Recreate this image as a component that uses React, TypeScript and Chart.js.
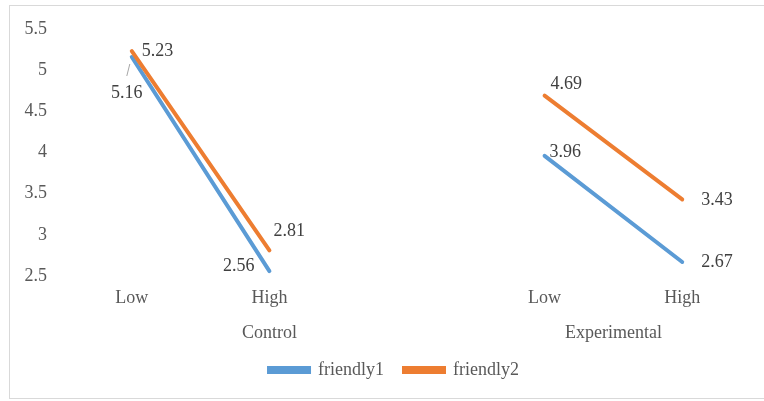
import React, { useEffect, useRef } from "react";
import { Chart, registerables } from "chart.js";

Chart.register(...registerables);

const categories = ["Low", "High", "", "Low", "High"];
const groupNames = ["Control", "Experimental"];
const groupStart = [0, 3];
const groupEnd = [2, 4];
const friendly1 = [5.16, 2.56, null, 3.96, 2.67];
const friendly2 = [5.23, 2.81, null, 4.69, 3.43];
const yMin = 2.5;
const yMax = 5.5;
const yStep = 0.5;

// label placement: [dx, dy, align, leaderLine]
const labelPlacement1: [number, number, CanvasTextAlign, boolean][] = [
  [-5, 36, "center", true],
  [-15, -5, "right", false],
  [0, 0, "left", false],
  [5, -4, "left", false],
  [19, 0, "left", false],
];
const labelPlacement2: [number, number, CanvasTextAlign, boolean][] = [
  [10, 0, "left", false],
  [4, -19, "left", false],
  [0, 0, "left", false],
  [6, -11, "left", false],
  [19, 1, "left", false],
];

const FONT = "'Liberation Serif', 'Times New Roman', serif";
const TEXT = "#595959";

const dataLabelPlugin = {
  id: "dataLabels",
  afterDatasetsDraw(chart: any) {
    const ctx = chart.ctx;
    const placements = [labelPlacement1, labelPlacement2];
    ctx.save();
    ctx.font = `18px ${FONT}`;
    ctx.fillStyle = "#404040";
    ctx.textBaseline = "middle";
    chart.data.datasets.forEach((ds: any, di: number) => {
      const meta = chart.getDatasetMeta(di);
      ds.data.forEach((v: number | null, i: number) => {
        if (v == null) return;
        const pt = meta.data[i];
        const [dx, dy, align, leader] = placements[di][i];
        ctx.textAlign = align;
        ctx.fillText(String(v), pt.x + dx, pt.y + dy);
        if (leader) {
          ctx.strokeStyle = "#a6a6a6";
          ctx.lineWidth = 1;
          ctx.beginPath();
          ctx.moveTo(pt.x + dx, pt.y + dy - 17);
          ctx.lineTo(pt.x - 2, pt.y + 7);
          ctx.stroke();
        }
      });
    });
    ctx.restore();
  },
};

const groupLabelPlugin = {
  id: "groupLabels",
  afterDraw(chart: any) {
    const ctx = chart.ctx;
    const xs = chart.scales.x;
    ctx.save();
    ctx.font = `18px ${FONT}`;
    ctx.fillStyle = TEXT;
    ctx.textAlign = "center";
    ctx.textBaseline = "middle";
    groupNames.forEach((name, gi) => {
      const x = (xs.getPixelForValue(groupStart[gi]) + xs.getPixelForValue(groupEnd[gi])) / 2;
      ctx.fillText(name, x, xs.top + 57);
    });
    ctx.restore();
  },
};

// the original chart's legend is centred on a frame wider than the picture
const legendShiftPlugin = {
  id: "legendShift",
  afterLayout(chart: any) {
    if (chart.legend) chart.legend.left += 37;
  },
};

export default function App() {
  const ref = useRef<HTMLCanvasElement>(null);
  useEffect(() => {
    if (!ref.current) return;
    const chart = new Chart(ref.current, {
      type: "line",
      data: {
        labels: categories,
        datasets: [
          {
            label: "friendly1",
            data: friendly1,
            borderColor: "#5B9BD5",
            backgroundColor: "#5B9BD5",
            borderWidth: 4,
            pointRadius: 0,
            spanGaps: false,
            borderCapStyle: "round",
            order: 1,
          },
          {
            label: "friendly2",
            data: friendly2,
            borderColor: "#ED7D31",
            backgroundColor: "#ED7D31",
            borderWidth: 4,
            pointRadius: 0,
            spanGaps: false,
            borderCapStyle: "round",
            order: 0,
          },
        ],
      },
      options: {
        responsive: false,
        animation: false,
        layout: { padding: { left: 0, right: 13, top: 29, bottom: 12 } },
        scales: {
          x: {
            offset: true,
            grid: { display: false, drawTicks: false },
            border: { display: false },
            ticks: { font: { family: FONT, size: 18 }, color: TEXT, padding: 11, maxRotation: 0, autoSkip: false },
            afterFit: (s: any) => { s.height = 65; },
          },
          y: {
            min: yMin,
            max: yMax,
            grid: { display: false, drawTicks: false },
            border: { display: false },
            ticks: {
              stepSize: yStep,
              font: { family: FONT, size: 18 },
              color: TEXT,
              padding: 16,
              callback: (v: any) => String(Number(v)),
            },
            afterFit: (s: any) => { s.width = 63; },
          },
        },
        plugins: {
          legend: {
            position: "bottom",
            labels: {
              font: { family: FONT, size: 18 },
              color: TEXT,
              boxWidth: 40,
              boxHeight: 4,
              padding: 20,
              sort: (a: any, b: any) => a.datasetIndex - b.datasetIndex,
            },
          },
          tooltip: { enabled: false },
        },
      },
      plugins: [dataLabelPlugin, groupLabelPlugin, legendShiftPlugin],
    });
    return () => chart.destroy();
  }, []);

  return (
    <>
      <div
        style={{
          position: "absolute",
          left: 9,
          top: 5,
          width: 755,
          height: 394,
          boxSizing: "border-box",
          borderTop: "1px solid #d9d9d9",
          borderLeft: "1px solid #d9d9d9",
          borderBottom: "1px solid #d9d9d9",
        }}
      />
      <canvas ref={ref} width={764} height={401} style={{ position: "absolute", left: 0, top: 0 }} />
    </>
  );
}
